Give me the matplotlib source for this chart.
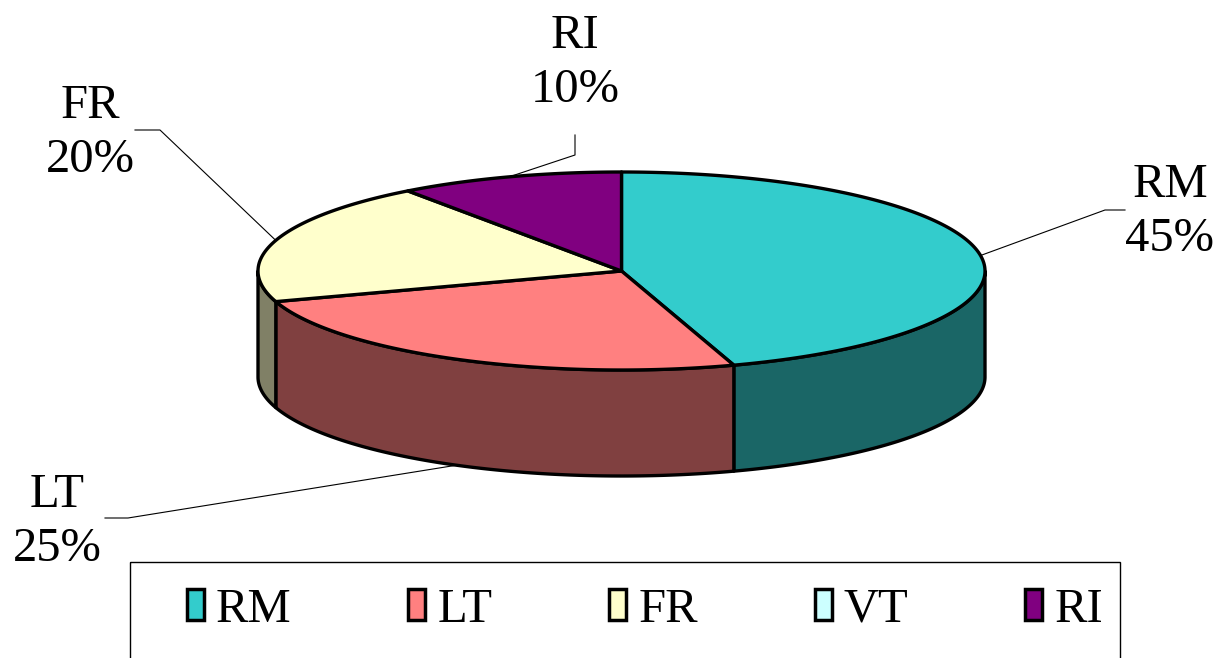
import numpy as np
import matplotlib
matplotlib.use('Agg')
import matplotlib.pyplot as plt
from matplotlib.patches import Polygon, Rectangle, Patch
from matplotlib.colors import to_rgb

# ── Data ─────────────────────────────────────────────────────────────────────
labels = ['RM', 'LT', 'FR', 'VT', 'RI']
values = [45, 25, 20, 0, 10]
colors = ['#33CCCC', '#FF8080', '#FFFFCC', '#CCFFFF', '#800080']

# ── Layout (pixel space) ─────────────────────────────────────────────────────
CX, CY, RX, RY, DEPTH = 621.5, 271, 363.5, 99, 106
# leader elbow / end points and label centres, per slice (None = no label)
elbows = [(1105, 210), (128, 518), (160, 130), None, (575, 155)]
ends = [(1125, 210), (105, 518), (135, 130), None, (575, 135)]
label_xy = [(1170, 212), (57, 522), (90, 133), None, (575, 63)]

FONT = 'Liberation Serif'
FSIZE = 35

fig = plt.figure(figsize=(12.14, 6.58), dpi=100)
ax = fig.add_axes([0, 0, 1, 1])
ax.set_xlim(0, 1214)
ax.set_ylim(658, 0)
ax.axis('off')


def arc(a_from, a_to, dz=0):
    n = max(2, int(abs(a_to - a_from) * 2))
    t = np.radians(np.linspace(a_from, a_to, n))
    return np.column_stack([CX + RX * np.cos(t), CY - RY * np.sin(t) + dz])


total = float(sum(values))
start = 90.0
spans = []
for v in values:
    a0 = start
    a1 = start - 360.0 * v / total
    spans.append((a0, a1))
    start = a1

# sides (front half only: angles between -180 and 0)
for (a0, a1), v, c in zip(spans, values, colors):
    if v == 0:
        continue
    lo, hi = max(a1, -180.0), min(a0, 0.0)
    if lo < hi:
        top = arc(hi, lo)
        bot = arc(lo, hi, DEPTH)
        side = tuple(np.array(to_rgb(c)) * 0.5)
        ax.add_patch(Polygon(np.vstack([top, bot]), closed=True,
                             facecolor=side, edgecolor='black', lw=2.4,
                             joinstyle='round'))

# top wedges
for (a0, a1), v, c in zip(spans, values, colors):
    if v == 0:
        continue
    pts = np.vstack([[CX, CY], arc(a0, a1)])
    ax.add_patch(Polygon(pts, closed=True, facecolor=c, edgecolor='black',
                         lw=2.4, joinstyle='round'))

# leader lines + labels
for (a0, a1), v, lab, el, en, lxy in zip(spans, values, labels,
                                          elbows, ends, label_xy):
    if v == 0 or lxy is None:
        continue
    mid = np.radians((a0 + a1) / 2)
    ax_ = CX + RX * np.cos(mid)
    ay_ = CY - RY * np.sin(mid) + (DEPTH if np.sin(mid) < 0 else 0)
    ax.plot([ax_, el[0], en[0]], [ay_, el[1], en[1]], color='black', lw=0.8)
    ax.text(lxy[0], lxy[1], f"{lab}\n{v / total:.0%}", ha='center',
            va='center', family=FONT, fontsize=FSIZE, linespacing=1.3)

# legend
ax.add_patch(Rectangle((130, 562), 990, 200, facecolor='none',
                       edgecolor='black', lw=1.0))
handles = [Patch(facecolor=c, edgecolor='black', lw=2.5, joinstyle='round')
           for c in colors]
ax.legend(handles, labels, loc='center', bbox_to_anchor=(645 / 1214, 1 - 610 / 658),
          ncol=5, frameon=False, prop={'family': FONT, 'size': FSIZE},
          handlelength=0.35, handleheight=0.6, handletextpad=0.25,
          columnspacing=2.4)

fig.savefig('out.png', dpi=100)
